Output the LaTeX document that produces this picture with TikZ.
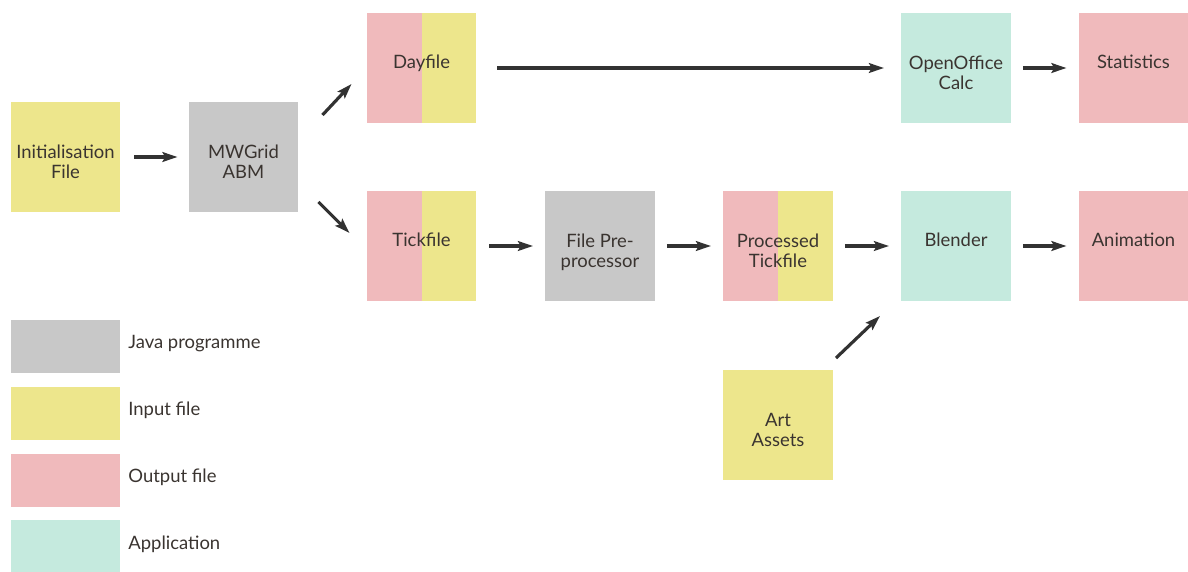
\documentclass[tikz,border=0pt]{standalone}
\usepackage{fontspec}
\setmainfont{Lato}
\usetikzlibrary{calc,arrows.meta}
\definecolor{cyellow}{RGB}{237,230,140}
\definecolor{cpink}{RGB}{240,186,188}
\definecolor{cgray}{RGB}{200,200,200}
\definecolor{cmint}{RGB}{197,234,222}
\definecolor{ctext}{RGB}{58,52,48}
\definecolor{carrow}{RGB}{50,50,50}
% two-line box caption, set a little below the box centre
\newcommand{\twoline}[2]{\raisebox{-4.3pt}[\height][\depth]{\begin{tabular}{@{}c@{}}#1\\#2\end{tabular}}}
% one-line box caption, set a little above the box centre
\newcommand{\oneline}[1]{\raisebox{7pt}{#1}}
\tikzset{
  box/.style={rectangle, minimum width=2.2cm, minimum height=2.2cm, inner sep=0pt, outer sep=0pt,
    text=ctext, align=center, font=\fontsize{10.5}{11.2}\selectfont},
  javabox/.style={box, fill=cgray},
  inbox/.style={box, fill=cyellow},
  outbox/.style={box, fill=cpink},
  appbox/.style={box, fill=cmint},
  splitbox/.style={box, fill=cyellow, path picture={
      \fill[cpink] (path picture bounding box.north west) rectangle (path picture bounding box.south);}},
  keybox/.style={rectangle, minimum width=2.2cm, minimum height=1.06cm, inner sep=0pt, outer sep=0pt},
  keytext/.style={anchor=west, text=ctext, font=\fontsize{10.5}{12.5}\selectfont, inner sep=0pt},
  arr/.style={draw=carrow, line width=1.8pt, -{Stealth[length=8.5pt,width=5.5pt,inset=1.5pt]}},
}
\begin{document}
\begin{tikzpicture}[x=0.02cm, y=-0.02cm]
\useasboundingbox (0,0) rectangle (1188,572);

% flow boxes
\node[inbox]    (init)  at (65.5,157)  {\twoline{Initialisation}{File}};
\node[javabox]  (mw)    at (243.5,157) {\twoline{MWGrid}{ABM}};
\node[splitbox] (day)   at (421.5,68)  {\oneline{Dayfile}};
\node[splitbox] (tick)  at (421.5,246) {\oneline{Tickfile}};
\node[javabox]  (pre)   at (600,246)   {\twoline{File Pre-}{processor}};
\node[splitbox] (proc)  at (778,246)   {\twoline{Processed}{Tickfile}};
\node[appbox]   (ooc)   at (956,68)    {\twoline{OpenOffice}{Calc}};
\node[appbox]   (blend) at (956,246)   {\oneline{Blender}};
\node[outbox]   (stats) at (1133.5,68) {\oneline{Statistics}};
\node[outbox]   (anim)  at (1133.5,246){\oneline{Animation}};
\node[inbox]    (art)   at (778,425)   {\twoline{Art}{Assets}};

% connectors
\draw[arr] ($(init.east)+(14,0)$) -- ($(mw.west)+(-11,0)$);
\draw[arr] ($(mw.east)+(24,-42)$) -- ($(day.south west)+(-15,-39)$);
\draw[arr] ($(mw.east)+(20,45)$) -- ($(tick.west)+(-17,-13)$);
\draw[arr] ($(day.east)+(21,0)$) -- ($(ooc.west)+(-17,0)$);
\draw[arr] ($(tick.east)+(13,0)$) -- ($(pre.west)+(-12,0)$);
\draw[arr] ($(pre.east)+(12,0)$) -- ($(proc.west)+(-12,0)$);
\draw[arr] ($(proc.east)+(12,0)$) -- ($(blend.west)+(-12,0)$);
\draw[arr] ($(art.north east)+(3,-12)$) -- ($(blend.south west)+(-21,15)$);
\draw[arr] ($(ooc.east)+(12,0)$) -- ($(stats.west)+(-12,0)$);
\draw[arr] ($(blend.east)+(12,0)$) -- ($(anim.west)+(-12,0)$);

% key
\node[keybox, fill=cgray]   (kjava) at (65.5,346.5) {};
\node[keybox, fill=cyellow] (kin)   at (65.5,413.5) {};
\node[keybox, fill=cpink]   (kout)  at (65.5,480.5) {};
\node[keybox, fill=cmint]   (kapp)  at (65.5,546)   {};
\node[keytext] (tjava) at (128,344) {Java programme};
\node[keytext] (tin)   at (128,410) {Input file};
\node[keytext] (tout)  at (128,477) {Output file};
\node[keytext] (tapp)  at (128,544) {Application};
\end{tikzpicture}
\end{document}
